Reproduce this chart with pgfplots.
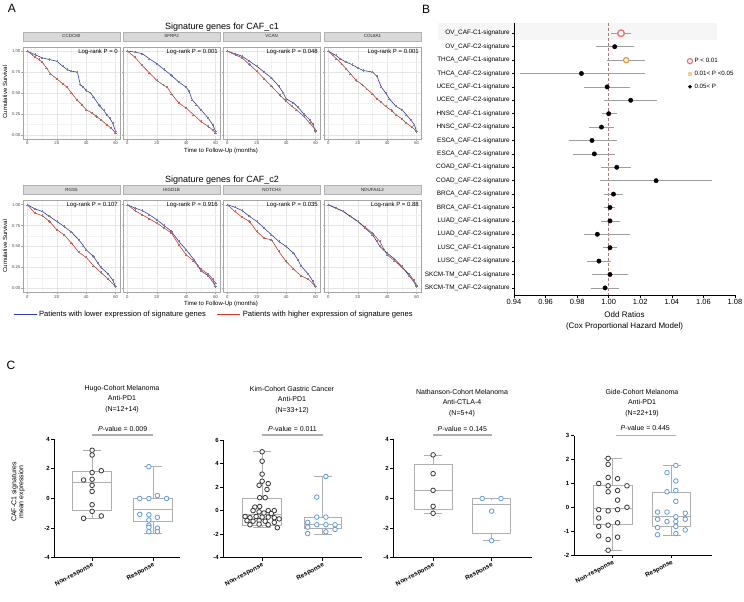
\documentclass[border=0pt]{standalone}
\usepackage{fontspec}
\setmainfont{Liberation Sans}
\usepackage{pgfplots}
\pgfplotsset{compat=1.18}
\usepackage{pgfplotstable}
\usepgfplotslibrary{statistics}

\definecolor{kmblue}{RGB}{45,60,175}
\definecolor{kmred}{RGB}{215,50,40}
\definecolor{stripgray}{RGB}{217,217,217}
\definecolor{respblue}{RGB}{95,155,225}
\definecolor{nrgray}{RGB}{55,55,55}
\definecolor{boxgray}{RGB}{175,175,175}
\definecolor{pinkc}{RGB}{235,120,120}
\definecolor{orangec}{RGB}{240,150,40}
\definecolor{lorange}{RGB}{245,205,150}
\definecolor{dashc}{RGB}{170,125,125}

\newcommand{\fs}[1]{\fontsize{#1}{#1}\selectfont}

\pgfplotsset{
  km/.style={
    scale only axis, width=97pt, height=92pt, anchor=north west,
    xmin=-3, xmax=63, ymin=-0.05, ymax=1.05,
    xtick={0,20,40,60}, ytick={0,0.25,0.5,0.75,1},
    minor xtick={10,30,50}, minor ytick={0.125,0.375,0.625,0.875},
    grid=both, major grid style={gray!20, line width=0.35pt},
    minor grid style={gray!10, line width=0.25pt},
    axis line style={gray!70, line width=0.5pt},
    tick pos=left, tick align=outside, major tick length=1.5pt, minor tick length=0pt,
    tick style={gray!70, line width=0.4pt},
    ticklabel style={font=\fs{4.2}, text=gray!60!black, inner sep=1pt},
    /pgf/number format/assume math mode=true,
    yticklabels={0.00,0.25,0.50,0.75,1.00},
    title style={at={(0.5,1)}, anchor=south, yshift=0pt, fill=stripgray, draw=gray!60,
      line width=0.4pt, minimum width=97pt, minimum height=9pt, inner sep=0pt,
      font=\fs{4.5}, text=gray!30!black},
    clip=false,
  },
  kmnoy/.style={yticklabels={}},
  blu/.style={kmblue, line width=0.6pt, mark=+, mark size=1.1pt,
    mark options={gray, line width=0.3pt}, forget plot},
  rd/.style={kmred, line width=0.6pt, mark=+, mark size=1.1pt,
    mark options={gray, line width=0.3pt}, forget plot},
  forestbox/.style={at={(514pt,-22.7pt)}, anchor=north west, scale only axis,
    width=221pt, height=272.3pt,
    xmin=0.94, xmax=1.08, ymin=0.21, ymax=20.53, y dir=reverse, clip=false},
  cbox/.style={
    scale only axis, anchor=north west,
    axis x line*=bottom, axis y line*=left,
    axis line style={black, line width=0.9pt},
    tick align=outside, major tick length=3pt, tick style={black, line width=0.9pt},
    xtick={1,2}, xticklabels={Non-response,Response},
    xticklabel style={rotate=28, anchor=north east, font=\fs{6.3}\bfseries, inner sep=1pt},
    yticklabel style={font=\fs{6}\bfseries, inner sep=1.5pt},
    boxplot/draw direction=y,
    clip=false,
  },
  bx/.style={draw=boxgray, line width=0.9pt, solid, mark=none},
  nr/.style={only marks, mark=*, mark size=2.3pt,
    mark options={fill=white, draw=nrgray, line width=0.8pt}},
  rs/.style={only marks, mark=*, mark size=2.3pt,
    mark options={fill=white, draw=respblue, line width=0.8pt}},
}

\pgfplotstableread{
row or lo hi
1 1.0078 1.0027 1.0127
2 1.0038 0.9932 1.0148
3 1.0110 1.0002 1.0217
4 0.9827 0.9450 1.0217
5 0.9990 0.9859 1.0120
6 1.0139 0.9980 1.0292
7 1.0000 0.9970 1.0038
8 0.9954 0.9888 1.0021
9 0.9894 0.9759 1.0038
10 0.9909 0.9789 1.0027
11 1.0051 0.9966 1.0127
12 1.0300 0.9960 1.0643
13 1.0030 0.9985 1.0076
14 1.0008 0.9980 1.0025
15 1.0008 0.9966 1.0060
16 0.9928 0.9854 1.0122
17 1.0008 0.9977 1.0040
18 0.9938 0.9875 1.0000
19 1.0008 0.9905 1.0112
20 0.9977 0.9900 1.0053
}\forestdata

\begin{document}
\begin{tikzpicture}
\path[use as bounding box, fill=white] (0pt,0pt) rectangle (744pt,-602pt);

% ---------------- panel A ----------------
\node[font=\fs{12}] at (12pt,-8pt) {A};
\node[font=\fs{9}] at (222pt,-27pt) {Signature genes for CAF\_c1};
\node[font=\fs{9}] at (222pt,-180pt) {Signature genes for CAF\_c2};
\node[font=\fs{6}] at (221pt,-151pt) {Time to Follow-Up (months)};
\node[font=\fs{6}] at (221pt,-304pt) {Time to Follow-Up (months)};
\node[font=\fs{6}, rotate=90] at (5pt,-92pt) {Cumulative Survival};
\node[font=\fs{6}, rotate=90] at (5pt,-246pt) {Cumulative Survival};

\begin{axis}[km, at={(23pt,-47pt)}, title={CCDC80}]
\addplot[blu] coordinates {(0,1)(5,0.96)(10,0.92)(15,0.90)(20,0.88)(24,0.82)(27,0.78)(30,0.76)(34,0.75)(36,0.60)(38,0.57)(40,0.53)(43,0.50)(45,0.45)(49,0.35)(52,0.29)(54,0.24)(56,0.20)(58,0.14)(60,0.04)};
\addplot[rd] coordinates {(0,1)(3,0.96)(5,0.93)(8,0.90)(10,0.87)(13,0.80)(15.6,0.73)(20,0.67)(24,0.61)(27,0.57)(30,0.50)(33.6,0.42)(37,0.36)(40,0.30)(44,0.26)(47,0.22)(50,0.18)(54,0.12)(57,0.08)(60,0.02)};
\node[anchor=north east, font=\fs{6}, inner sep=1pt] at (rel axis cs:0.99,0.995) {Log-rank P = 0};
\end{axis}

\begin{axis}[km, kmnoy, at={(123pt,-47pt)}, title={SFRP2}]
\addplot[blu] coordinates {(0,1)(5,0.99)(10,0.97)(15,0.91)(20,0.85)(25,0.78)(30,0.71)(35,0.63)(40,0.57)(42,0.52)(44,0.42)(47,0.36)(50,0.30)(55,0.20)(58,0.12)(60,0.04)};
\addplot[rd] coordinates {(0,1)(5,0.93)(10,0.83)(15,0.74)(20,0.65)(24,0.60)(27,0.57)(30,0.49)(35,0.38)(40,0.32)(45,0.24)(50,0.16)(55,0.10)(58,0.06)(60,0.02)};
\node[anchor=north east, font=\fs{6}, inner sep=1pt] at (rel axis cs:0.99,0.995) {Log-rank P = 0.001};
\end{axis}

\begin{axis}[km, kmnoy, at={(223pt,-47pt)}, title={VCAN}]
\addplot[blu] coordinates {(0,1)(5,0.97)(10,0.94)(15,0.88)(20,0.82)(25,0.75)(30,0.68)(35,0.58)(38,0.50)(40,0.43)(45,0.38)(48,0.33)(52,0.25)(56,0.18)(58,0.13)(60,0.04)};
\addplot[rd] coordinates {(0,1)(5,0.96)(10,0.92)(15,0.84)(20,0.76)(25,0.67)(30,0.58)(36,0.47)(40,0.40)(44,0.34)(47,0.30)(52,0.22)(56,0.14)(58,0.10)(60,0.06)};
\node[anchor=north east, font=\fs{6}, inner sep=1pt] at (rel axis cs:0.99,0.995) {Log-rank P = 0.048};
\end{axis}

\begin{axis}[km, kmnoy, at={(324pt,-47pt)}, title={COL8A1}]
\addplot[blu] coordinates {(0,1)(5,0.95)(8,0.91)(12,0.87)(16,0.84)(20,0.80)(23.5,0.77)(30,0.75)(33,0.70)(36,0.57)(39,0.50)(41.5,0.43)(46,0.34)(50,0.30)(53,0.24)(56,0.18)(58.5,0.12)(60,0.04)};
\addplot[rd] coordinates {(0,1)(3,0.95)(5.4,0.91)(9,0.85)(12,0.79)(15,0.73)(19,0.65)(23,0.60)(26,0.55)(30,0.49)(33,0.43)(36,0.39)(39,0.34)(43,0.29)(46,0.24)(50,0.19)(53,0.14)(57,0.09)(60,0.04)};
\node[anchor=north east, font=\fs{6}, inner sep=1pt] at (rel axis cs:0.99,0.995) {Log-rank P = 0.001};
\end{axis}

\begin{axis}[km, at={(23pt,-200.5pt)}, title={RGS5},
  legend columns=2,
  legend style={at={(rel axis cs:-0.134,-0.235)}, anchor=west, draw=none, fill=none,
    font=\fs{7.6}, /tikz/every even column/.append style={column sep=9pt}},
  legend image code/.code={\draw[#1] (0pt,0pt) -- (23pt,0pt);}]
\addplot[blu] coordinates {(0,1)(5,0.95)(10,0.92)(15,0.86)(20,0.80)(25,0.74)(30,0.67)(35,0.58)(38,0.51)(40,0.46)(45,0.38)(48,0.30)(50,0.25)(55,0.17)(58,0.10)(60,0.02)};
\addplot[rd] coordinates {(0,1)(5,0.90)(10,0.87)(15,0.80)(20,0.70)(25,0.64)(30,0.54)(35,0.43)(40,0.37)(45,0.27)(50,0.19)(55,0.11)(60,0.02)};
\node[anchor=north east, font=\fs{6}, inner sep=1pt] at (rel axis cs:0.99,0.995) {Log-rank P = 0.107};
\addlegendimage{kmblue, line width=0.9pt}
\addlegendentry{Patients with lower expression of signature genes}
\addlegendimage{kmred, line width=0.9pt}
\addlegendentry{Patients with higher expression of signature genes}
\end{axis}

\begin{axis}[km, kmnoy, at={(123pt,-200.5pt)}, title={HIGD1B}]
\addplot[blu] coordinates {(0,1)(5,0.96)(10,0.93)(15,0.88)(20,0.82)(25,0.75)(30,0.68)(35,0.56)(40,0.46)(45,0.35)(48,0.27)(50,0.21)(55,0.15)(58,0.08)(60,0.02)};
\addplot[rd] coordinates {(0,1)(5,0.93)(10,0.88)(15,0.83)(20,0.78)(25,0.72)(30,0.66)(35,0.52)(40,0.40)(45,0.33)(50,0.23)(55,0.17)(58,0.11)(60,0.06)};
\node[anchor=north east, font=\fs{6}, inner sep=1pt] at (rel axis cs:0.99,0.995) {Log-rank P = 0.916};
\end{axis}

\begin{axis}[km, kmnoy, at={(223pt,-200.5pt)}, title={NOTCH3}]
\addplot[blu] coordinates {(0,1)(5,0.97)(10,0.93)(15,0.86)(20,0.80)(25,0.72)(30,0.64)(35,0.56)(40,0.50)(45,0.42)(48,0.34)(50,0.27)(55,0.17)(58,0.09)(60,0.02)};
\addplot[rd] coordinates {(0,1)(5,0.92)(10,0.85)(15,0.80)(20,0.68)(25,0.60)(30,0.58)(35,0.44)(40,0.32)(45,0.23)(50,0.15)(55,0.11)(58,0.06)(60,0.02)};
\node[anchor=north east, font=\fs{6}, inner sep=1pt] at (rel axis cs:0.99,0.995) {Log-rank P = 0.035};
\end{axis}

\begin{axis}[km, kmnoy, at={(324pt,-200.5pt)}, title={NDUFA4L2}]
\addplot[rd] coordinates {(0,1)(5,0.96)(10,0.92)(15,0.86)(20,0.80)(25,0.73)(30,0.66)(35,0.56)(38,0.46)(40,0.40)(45,0.33)(50,0.25)(55,0.17)(58,0.10)(60,0.04)};
\addplot[blu] coordinates {(0,1)(5,0.96)(10,0.92)(15,0.86)(20,0.80)(25,0.72)(30,0.64)(33,0.56)(35,0.50)(40,0.42)(45,0.35)(50,0.26)(55,0.15)(58,0.08)(60,0.02)};
\node[anchor=north east, font=\fs{6}, inner sep=1pt] at (rel axis cs:0.99,0.995) {Log-rank P = 0.88};
\end{axis}

% ---------------- panel B ----------------
\node[font=\fs{12}] at (426pt,-9pt) {B};
% shaded band behind the first row (drawn first so labels sit on top)
\begin{axis}[forestbox, hide axis]
\fill[gray!7] (axis cs:0.892,0.21) rectangle (axis cs:1.0686,1.5);
\end{axis}
\begin{axis}[forestbox,
  axis x line*=bottom, axis y line*=left,
  axis line style={black, line width=0.7pt},
  tick align=outside, major tick length=2.5pt, tick style={black, line width=0.6pt},
  xtick={0.94,0.96,0.98,1.00,1.02,1.04,1.06,1.08},
  xticklabels={0.94,0.96,0.98,1.00,1.02,1.04,1.06,1.08},
  ytick={1,2,...,20},
  yticklabels={OV\_CAF-C1-signature, OV\_CAF-C2-signature, THCA\_CAF-C1-signature,
    THCA\_CAF-C2-signature, UCEC\_CAF-C1-signature, UCEC\_CAF-C2-signature,
    HNSC\_CAF-C1-signature, HNSC\_CAF-C2-signature, ESCA\_CAF-C1-signature,
    ESCA\_CAF-C2-signature, COAD\_CAF-C1-signature, COAD\_CAF-C2-signature,
    BRCA\_CAF-C2-signature, BRCA\_CAF-C1-signature, LUAD\_CAF-C1-signature,
    LUAD\_CAF-C2-signature, LUSC\_CAF-C1-signature, LUSC\_CAF-C2-signature,
    SKCM-TM\_CAF-C1-signature, SKCM-TM\_CAF-C2-signature},
  yticklabel style={font=\fs{6.4}, inner sep=1.5pt},
  xticklabel style={font=\fs{7.5}, inner sep=2pt},
  xlabel={Odd Ratios\\(Cox Proportional Hazard Model)},
  xlabel style={font=\fontsize{8}{10.7}\selectfont, align=center, yshift=-1.5pt},
  legend style={at={(rel axis cs:0.77,0.885)}, anchor=north west, draw=none, fill=none,
    font=\fs{6.2}, row sep=3pt, cells={anchor=west}}]
\addplot[densely dashed, dashc, line width=0.7pt, forget plot] coordinates {(1,0.21) (1,20.53)};
\addplot[only marks, mark=*, mark size=2.2pt, black, forget plot,
  error bars/.cd, x dir=both, x explicit,
  error bar style={gray!75, line width=0.6pt},
  error mark options={gray!75, mark size=2pt, line width=0.6pt}]
  table[x=or, y=row, x error plus expr=\thisrow{hi}-\thisrow{or},
        x error minus expr=\thisrow{or}-\thisrow{lo}] {\forestdata};
\addplot[only marks, mark=*, mark size=3.3pt, forget plot,
  mark options={fill=white, draw=pinkc, line width=1.4pt}] coordinates {(1.0078,1)};
\addplot[only marks, mark=*, mark size=2.6pt, forget plot,
  mark options={fill=white, draw=orangec, line width=1.2pt}] coordinates {(1.0110,3)};
\addlegendimage{only marks, mark=*, mark size=2.6pt, mark options={fill=white, draw=pinkc, line width=1.2pt}}
\addlegendentry{P < 0.01}
\addlegendimage{only marks, mark=square*, mark size=1.6pt, lorange}
\addlegendentry{0.01< P <0.05}
\addlegendimage{only marks, mark=*, mark size=1.6pt, black}
\addlegendentry{0.05< P}
\end{axis}

% ---------------- panel C ----------------
\node[font=\fs{12}] at (11pt,-365pt) {C};
\node[font=\fs{7}, rotate=90, align=center] at (18pt,-492pt) {CAF-C1 signatures\\mean expression};

\node[font=\fontsize{7}{10.3}\selectfont, align=center] at (122pt,-399pt) {Hugo-Cohort Melanoma\\Anti-PD1\\(N=12+14)};
\node[font=\fontsize{7}{10.3}\selectfont, align=center] at (292pt,-400pt) {Kim-Cohort Gastric Cancer\\Anti-PD1\\(N=33+12)};
\node[font=\fontsize{7}{10.3}\selectfont, align=center] at (462pt,-403pt) {Nathanson-Cohort Melanoma\\Anti-CTLA-4\\(N=5+4)};
\node[font=\fontsize{7}{10.3}\selectfont, align=center] at (642pt,-403pt) {Gide-Cohort Melanoma\\Anti-PD1\\(N=22+19)};

\begin{axis}[cbox, at={(54.3pt,-439.3pt)}, width=125.7pt, height=118.4pt,
  xmin=0.38, xmax=2.44, ymin=-4, ymax=4, ytick={-4,-2,0,2,4}, yticklabels={-4,-2,0,2,4}]
\draw[boxgray, line width=1.2pt] ([yshift=4.3pt]axis cs:1,4) -- ([yshift=4.3pt]axis cs:2,4);
\node[font=\fs{7}] at ([yshift=10.8pt]axis cs:1.5,4) {\textit{P}-value = 0.009};
\addplot[bx, boxplot prepared={median=1.07, upper quartile=1.84, lower quartile=-0.78,
  upper whisker=3.26, lower whisker=-1.34, draw position=1, box extend=0.64, whisker extend=0.3}] coordinates {};
\addplot[bx, boxplot prepared={median=-0.73, upper quartile=-0.03, lower quartile=-1.55,
  upper whisker=2.15, lower whisker=-2.33, draw position=2, box extend=0.64, whisker extend=0.3}] coordinates {};
\addplot[nr] coordinates {(1,3.26)(1,2.94)(1.15,1.88)(1,1.75)(0.86,1.25)(1,1.30)(1,0.89)(1,0.48)(1,-0.42)(1,-0.87)(0.86,-1.34)(1.15,-1.18)};
\addplot[rs] coordinates {(1.93,2.15)(1.78,0.0)(1.93,0.0)(2.07,0.2)(2.22,0.0)(1.78,-1.07)(1.93,-1.1)(2.07,-1.27)(1.93,-1.45)(1.93,-1.8)(2.07,-2.0)(1.93,-1.95)(1.93,-2.24)(2.07,-2.24)};
\end{axis}

\begin{axis}[cbox, at={(223.3pt,-440pt)}, width=138.4pt, height=117.7pt,
  xmin=0.36, xmax=2.64, ymin=-4, ymax=6, ytick={-4,-2,0,2,4,6}, yticklabels={-4,-2,0,2,4,6}]
\draw[boxgray, line width=1.2pt] ([yshift=5pt]axis cs:1,6) -- ([yshift=5pt]axis cs:2,6);
\node[font=\fs{7}] at ([yshift=11.5pt]axis cs:1.5,6) {\textit{P}-value = 0.011};
\addplot[bx, boxplot prepared={median=-0.3, upper quartile=1.04, lower quartile=-1.3,
  upper whisker=5.0, lower whisker=-1.45, draw position=1, box extend=0.64, whisker extend=0.3}] coordinates {};
\addplot[bx, boxplot prepared={median=-1.15, upper quartile=-0.55, lower quartile=-1.5,
  upper whisker=2.9, lower whisker=-1.99, draw position=2, box extend=0.6, whisker extend=0.3}] coordinates {};
\addplot[nr] coordinates {(1,5.0)(1,4.2)(1,3.1)(1,2.5)(1.1,2.3)(0.95,2.15)(1.08,1.8)(0.96,1.1)(1.05,1.1)(0.88,0.3)(0.96,0.35)(0.85,0.0)(0.95,-0.1)(1.1,0.0)(1.2,0.0)(1.03,-0.2)(1.15,-0.25)(0.72,-0.5)(0.8,-0.6)(0.9,-0.5)(1.0,-0.55)(1.1,-0.55)(1.2,-0.6)(1.28,-0.7)(0.75,-0.85)(0.85,-0.9)(0.95,-0.85)(1.05,-0.9)(1.2,-1.0)(0.8,-1.2)(0.95,-1.15)(1.1,-1.2)(1.25,-1.45)};
\addplot[rs] coordinates {(2.05,2.9)(1.9,1.15)(1.9,-0.55)(2.05,-0.55)(1.75,-1.0)(1.9,-1.2)(2.05,-1.2)(2.2,-1.2)(1.75,-1.4)(2.2,-1.6)(1.75,-1.95)(2.05,-1.8)};
\end{axis}

\begin{axis}[cbox, at={(393.3pt,-439.3pt)}, width=138.7pt, height=118.4pt,
  xmin=0.32, xmax=2.69, ymin=-4, ymax=4, ytick={-4,-2,0,2,4}, yticklabels={-4,-2,0,2,4}]
\draw[boxgray, line width=1.2pt] ([yshift=4.3pt]axis cs:1,4) -- ([yshift=4.3pt]axis cs:2,4);
\node[font=\fs{7}] at ([yshift=10.8pt]axis cs:1.5,4) {\textit{P}-value = 0.145};
\addplot[bx, boxplot prepared={median=0.55, upper quartile=2.31, lower quartile=-0.73,
  upper whisker=2.94, lower whisker=-1.0, draw position=1, box extend=0.65, whisker extend=0.3}] coordinates {};
\addplot[bx, boxplot prepared={median=-0.42, upper quartile=-0.03, lower quartile=-2.33,
  upper whisker=0.0, lower whisker=-2.85, draw position=2, box extend=0.65, whisker extend=0.3}] coordinates {};
\addplot[nr] coordinates {(1,2.95)(1,1.68)(1,0.55)(1,-0.53)(1,-1.0)};
\addplot[rs] coordinates {(1.84,0.0)(2.16,0.0)(2,-0.85)(2,-2.85)};
\end{axis}

\begin{axis}[cbox, at={(574pt,-435.7pt)}, width=138.3pt, height=119.3pt,
  xmin=0.34, xmax=2.69, ymin=-2, ymax=3, ytick={-2,-1,0,1,2,3}, yticklabels={-2,-1,0,1,2,3}]
\draw[boxgray, line width=1.2pt] ([yshift=0.6pt]axis cs:1.05,3) -- ([yshift=0.6pt]axis cs:2.08,3);
\node[font=\fs{7}] at ([yshift=7.4pt]axis cs:1.55,3) {\textit{P}-value = 0.445};
\addplot[bx, boxplot prepared={median=-0.05, upper quartile=0.92, lower quartile=-0.74,
  upper whisker=2.05, lower whisker=-1.79, draw position=1, box extend=0.65, whisker extend=0.3}] coordinates {};
\addplot[bx, boxplot prepared={median=-0.38, upper quartile=0.63, lower quartile=-0.81,
  upper whisker=1.77, lower whisker=-1.18, draw position=2, box extend=0.65, whisker extend=0.3}] coordinates {};
\addplot[nr] coordinates {(0.92,2.05)(0.92,1.8)(0.92,1.25)(1.08,1.2)(0.76,1.0)(0.92,0.9)(1.24,0.9)(1.08,0.7)(0.92,0.65)(1.08,0.3)(1.24,0.0)(0.76,-0.1)(0.92,-0.15)(1.08,-0.1)(0.76,-0.45)(1.08,-0.65)(0.76,-0.8)(0.92,-0.75)(0.76,-1.2)(1.08,-1.25)(0.92,-1.35)(0.92,-1.8)};
\addplot[rs] coordinates {(2.07,1.75)(1.92,1.45)(2.07,1.1)(2.07,0.7)(1.92,0.65)(2.07,0.25)(1.76,-0.2)(1.92,-0.2)(2.23,-0.25)(2.07,-0.4)(1.76,-0.5)(2.23,-0.5)(1.92,-0.6)(2.07,-0.6)(1.76,-0.85)(2.07,-0.8)(2.23,-0.95)(1.76,-1.15)(2.07,-1.1)};
\end{axis}
\end{tikzpicture}
\end{document}
